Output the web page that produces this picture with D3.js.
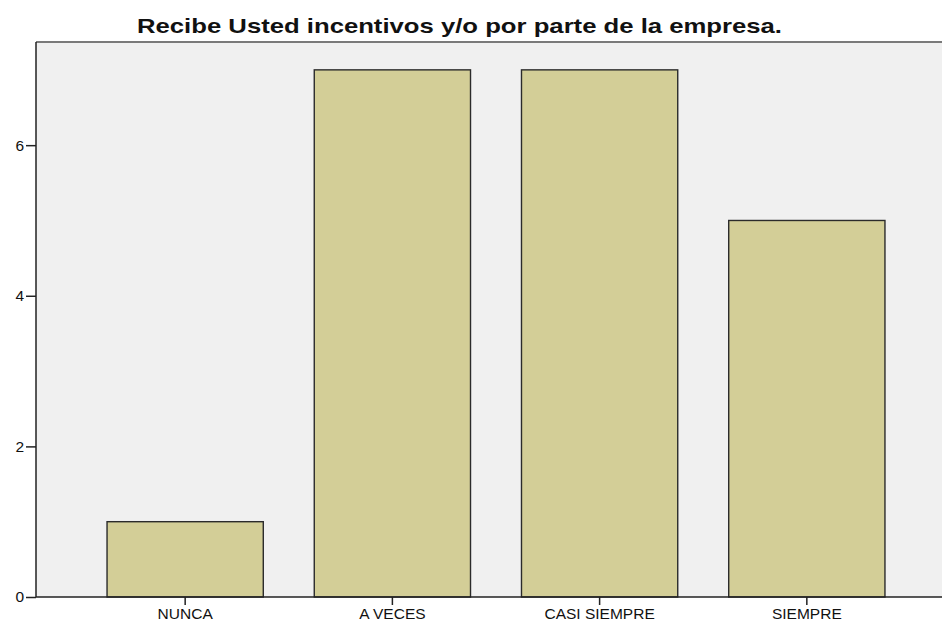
<!DOCTYPE html>
<html>
<head>
<meta charset="utf-8">
<script src="https://cdn.jsdelivr.net/npm/d3@7"></script>
<style>
  body { margin: 0; background: #fff; }
  #chart { width: 942px; height: 625px; }
</style>
</head>
<body>
<div id="chart"></div>
<script>
const categories = ["NUNCA", "A VECES", "CASI SIEMPRE", "SIEMPRE"];
const counts = [1, 7, 7, 5];
const yTicks = [0, 2, 4, 6];
const titleText = "Recibe Usted incentivos y/o por parte de la empresa.";

const width = 942;
const height = 625;
const margin = {top: 42, left: 36, right: -12, bottom: 28};

const svg = d3.select("#chart")
    .append("svg")
    .attr("width", width)
    .attr("height", height);

/*
SCALES
*/
const xScale = d3.scaleBand()
    .domain(categories)
    .range([margin.left + 1, width - margin.right + 1])
    .paddingInner(0.246)
    .paddingOuter(0.338);

const yScale = d3.scaleLinear()
    .domain([0, 7.37])
    .range([height - margin.bottom, margin.top]);

/*
PLOT BACKGROUND
*/
svg.append("rect")
    .attr("x", margin.left)
    .attr("y", margin.top)
    .attr("width", width - margin.left)
    .attr("height", height - margin.bottom - margin.top)
    .attr("fill", "#f0f0f0");

svg.append("line")
    .attr("x1", margin.left)
    .attr("x2", width)
    .attr("y1", margin.top)
    .attr("y2", margin.top)
    .attr("stroke", "#7a7a7a")
    .attr("stroke-width", 2);

/*
BARS
*/
svg.selectAll(".bar")
    .data(categories)
    .enter()
    .append("rect")
    .attr("class", "bar")
    .attr("x", function(d){ return xScale(d); })
    .attr("y", function(d, i){ return yScale(counts[i]); })
    .attr("width", xScale.bandwidth())
    .attr("height", function(d, i){ return yScale(0) - yScale(counts[i]); })
    .attr("fill", "#d3ce97")
    .attr("stroke", "#2b2b2b")
    .attr("stroke-width", 1.4);

/*
AXES
*/
const xAxis = svg.append("g")
    .attr("transform", `translate(0, ${height - margin.bottom})`)
    .call(d3.axisBottom(xScale).tickSize(8).tickSizeOuter(0).tickPadding(3));

xAxis.select(".domain")
    .attr("d", `M${margin.left},0H${width}`)
    .attr("stroke", "#222")
    .attr("stroke-width", 1.5);

const yAxis = svg.append("g")
    .attr("transform", `translate(${margin.left}, 0)`)
    .call(d3.axisLeft(yScale).tickValues(yTicks).tickSize(10).tickSizeOuter(0).tickPadding(2));

yAxis.select(".domain")
    .attr("d", `M0,${height - margin.bottom}V${margin.top}`)
    .attr("stroke", "#222")
    .attr("stroke-width", 1.5);

svg.selectAll(".tick line")
    .attr("stroke", "#222")
    .attr("stroke-width", 1.5);

svg.selectAll(".tick text")
    .style("font-family", "Arial, 'Liberation Sans', sans-serif")
    .style("font-size", "15.5px")
    .attr("fill", "#111");

/*
TITLE
*/
svg.append("text")
    .attr("x", 459.5)
    .attr("y", 33)
    .attr("text-anchor", "middle")
    .attr("textLength", 645)
    .attr("lengthAdjust", "spacingAndGlyphs")
    .style("font-family", "Arial, 'Liberation Sans', sans-serif")
    .style("font-weight", "bold")
    .style("font-size", "21px")
    .attr("fill", "#111")
    .text(titleText);
</script>
</body>
</html>
